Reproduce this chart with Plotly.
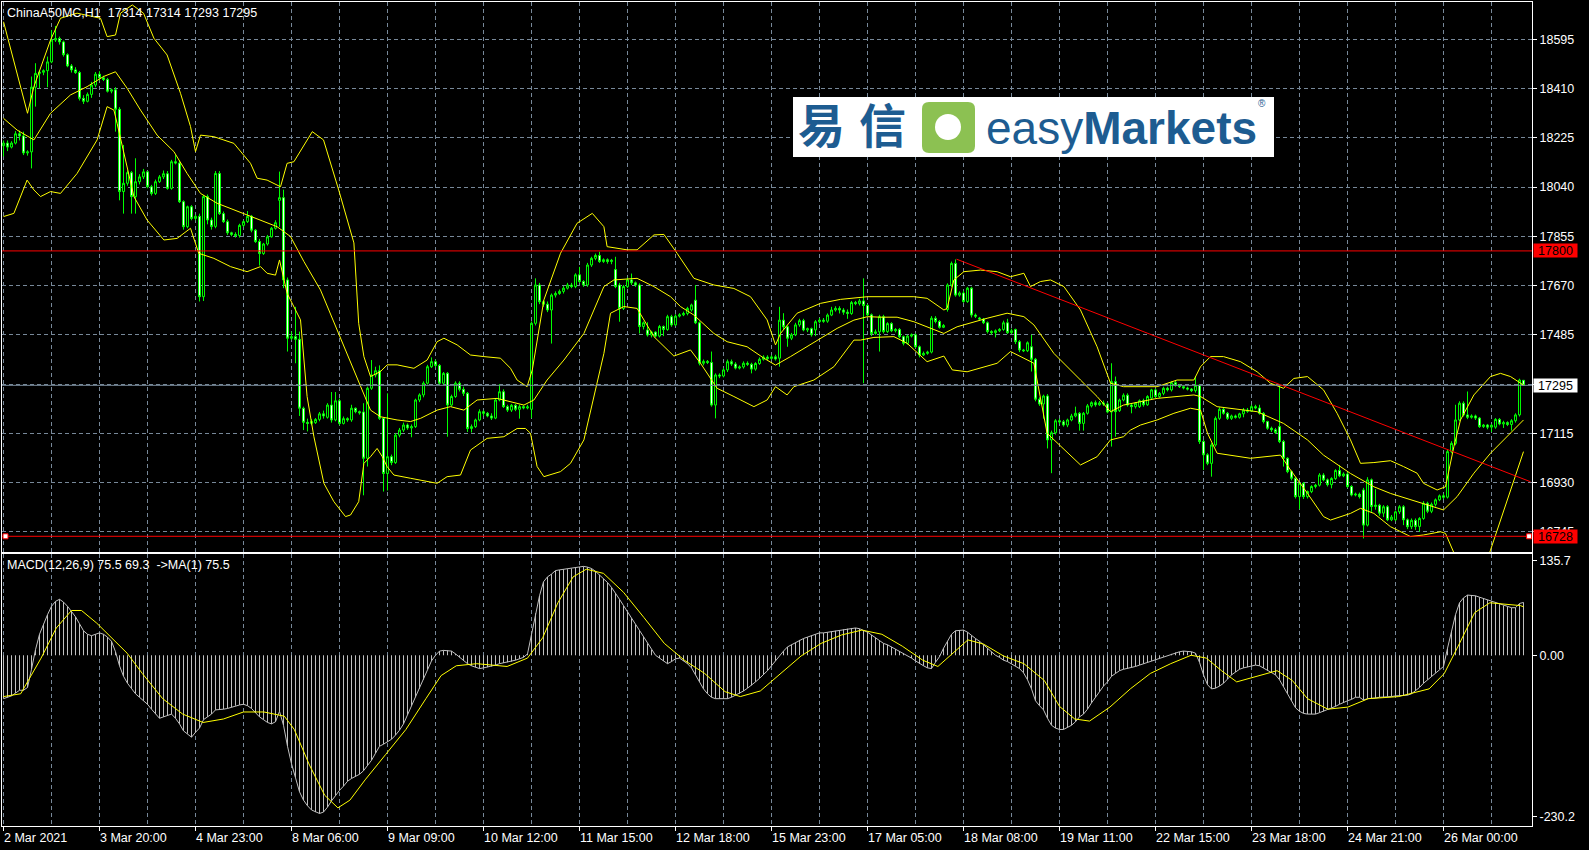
import plotly.graph_objects as go

# ---------------- data ----------------
bars = list(range(381))

opens = [
    18195,18205,18190,18205,18240,18232,18168,18172,18415,18467,
    18471,18477,18510,18592,18598,18585,18537,18495,18480,18470,
    18373,18362,18388,18423,18464,18450,18444,18400,18405,18332,
    18023,18054,18094,18004,18060,18078,18097,18041,18016,18060,
    18078,18090,18035,18135,18130,17985,17891,17966,17922,17930,
    17628,18004,17916,17892,18091,17940,17910,17868,17862,17858,
    17896,17910,17930,17878,17835,17790,17826,17853,17885,17990,
    18000,17691,17472,17478,17468,17209,17156,17152,17155,17167,
    17188,17175,17221,17165,17237,17152,17170,17165,17209,17196,
    17195,17021,17284,17334,17350,17171,16964,17027,17005,17108,
    17127,17146,17135,17140,17240,17259,17303,17365,17384,17370,
    17303,17340,17221,17253,17303,17280,17265,17133,17140,17165,
    17196,17190,17180,17172,17240,17271,17215,17202,17220,17205,
    17215,17210,17205,17528,17672,17609,17600,17578,17634,17640,
    17648,17660,17672,17666,17710,17685,17672,17747,17772,17783,
    17760,17767,17760,17730,17672,17584,17666,17691,17680,17672,
    17516,17503,17484,17495,17480,17516,17505,17553,17522,17555,
    17560,17565,17578,17615,17530,17378,17385,17381,17221,17334,
    17330,17353,17384,17375,17360,17364,17378,17374,17356,17377,
    17393,17401,17396,17402,17397,17540,17515,17472,17485,17522,
    17538,17503,17508,17503,17534,17540,17536,17559,17578,17584,
    17578,17570,17565,17606,17602,17612,17595,17560,17490,17496,
    17553,17497,17527,17500,17505,17478,17453,17480,17485,17440,
    17409,17415,17420,17547,17535,17513,17580,17672,17753,17634,
    17642,17610,17660,17559,17548,17544,17530,17497,17493,17500,
    17505,17530,17493,17505,17459,17428,17425,17440,17393,17243,
    17225,17255,17090,17117,17162,17158,17146,17165,17180,17190,
    17152,17190,17218,17230,17222,17229,17225,17195,17309,17200,
    17240,17258,17221,17215,17215,17237,17222,17247,17278,17253,
    17265,17284,17278,17305,17295,17290,17285,17281,17275,17295,
    17084,17034,17002,17071,17171,17205,17190,17171,17180,17175,
    17188,17202,17198,17215,17210,17190,17159,17134,17128,17140,
    17084,17021,16971,16946,16877,16927,16877,16896,16915,16920,
    16958,16940,16922,16945,16975,16955,16962,16915,16883,16886,
    16902,16770,16940,16840,16845,16815,16839,16790,16790,16820,
    16839,16790,16764,16788,16765,16795,16852,16822,16848,16865,
    16880,16875,17046,17077,17165,17228,17184,17175,17180,17172,
    17140,17146,17138,17138,17167,17150,17155,17148,17162,17184,17314,
]
highs = [
    18215,18215,18212,18250,18252,18248,18178,18455,18505,18476,
    18482,18530,18630,18645,18605,18590,18542,18502,18490,18476,
    18385,18395,18435,18472,18475,18458,18450,18410,18415,18340,
    18198,18102,18100,18148,18088,18108,18100,18048,18068,18085,
    18102,18100,18142,18160,18140,17990,17970,17972,17936,17940,
    18010,18012,17925,18100,18100,17948,17918,17872,17870,17902,
    17915,17950,17935,17882,17845,17830,17860,17890,17915,18098,
    18030,17700,17497,17590,17497,17215,17170,17168,17172,17195,
    17200,17228,17270,17270,17245,17178,17175,17222,17212,17200,
    17228,17290,17390,17365,17370,17175,17265,17035,17115,17135,
    17155,17152,17148,17245,17265,17310,17372,17400,17392,17375,
    17345,17345,17260,17310,17310,17290,17270,17148,17170,17205,
    17202,17195,17190,17245,17300,17280,17222,17225,17225,17222,
    17220,17222,17535,17697,17680,17615,17610,17640,17648,17655,
    17668,17680,17680,17716,17740,17690,17755,17778,17790,17797,
    17772,17772,17770,17778,17680,17672,17700,17715,17685,17678,
    17535,17532,17500,17498,17522,17520,17560,17560,17562,17566,
    17572,17590,17602,17672,17535,17392,17390,17422,17340,17340,
    17360,17392,17392,17382,17370,17385,17385,17380,17382,17400,
    17408,17408,17408,17410,17590,17566,17520,17492,17530,17545,
    17545,17512,17512,17540,17548,17548,17565,17590,17592,17592,
    17585,17580,17612,17612,17620,17697,17600,17565,17505,17560,
    17560,17532,17532,17510,17510,17482,17485,17490,17490,17445,
    17422,17425,17555,17555,17540,17525,17678,17760,17768,17648,
    17650,17665,17665,17565,17552,17548,17535,17502,17505,17510,
    17538,17545,17508,17508,17465,17432,17460,17485,17398,17250,
    17260,17262,17125,17168,17170,17165,17170,17188,17215,17195,
    17195,17225,17235,17238,17236,17238,17230,17378,17328,17245,
    17265,17265,17228,17232,17242,17245,17258,17282,17283,17270,
    17290,17290,17310,17312,17300,17293,17290,17285,17330,17300,
    17090,17040,17078,17178,17212,17212,17195,17185,17185,17192,
    17210,17210,17222,17222,17222,17195,17162,17140,17135,17293,
    17090,17025,16975,16950,16932,16932,16900,16920,16925,16965,
    16965,16945,16950,16980,16995,16968,16968,16920,16892,16892,
    16910,16950,16945,16905,16850,16845,16845,16808,16825,16845,
    16845,16795,16795,16795,16800,16860,16858,16855,16870,16885,
    16888,17055,17085,17222,17235,17235,17272,17186,17185,17176,
    17150,17150,17150,17172,17172,17162,17160,17168,17190,17320,17314,
]
lows = [
    18155,18175,18185,18200,18215,18160,18158,18110,18342,18410,
    18460,18415,18505,18585,18575,18530,18490,18470,18465,18365,
    18352,18358,18375,18415,18440,18438,18395,18392,18248,17990,
    17940,18045,17940,17940,18050,18070,18035,18008,18010,18055,
    18070,18030,18030,18125,17980,17880,17885,17915,17915,17610,
    17612,17900,17880,17885,17935,17905,17860,17855,17850,17850,
    17890,17905,17870,17830,17745,17785,17820,17850,17880,17890,
    17660,17422,17465,17378,17180,17127,17122,17145,17150,17160,
    17170,17170,17155,17160,17145,17148,17158,17158,17190,17185,
    16882,16990,17278,17325,17165,16896,16900,16995,17000,17100,
    17120,17128,17100,17135,17232,17250,17298,17360,17362,17298,
    17298,17102,17215,17248,17272,17255,17120,17118,17135,17160,
    17180,17175,17165,17168,17235,17210,17195,17195,17198,17170,
    17205,17205,17172,17520,17600,17590,17570,17452,17625,17635,
    17640,17655,17660,17660,17680,17665,17665,17740,17765,17755,
    17755,17752,17750,17660,17534,17578,17660,17672,17665,17490,
    17505,17478,17475,17475,17475,17480,17500,17515,17518,17550,
    17555,17558,17572,17525,17370,17370,17375,17215,17171,17322,
    17325,17345,17368,17355,17355,17358,17368,17340,17350,17372,
    17388,17390,17392,17388,17365,17505,17440,17465,17480,17515,
    17498,17495,17478,17480,17528,17530,17530,17555,17572,17565,
    17560,17545,17560,17596,17595,17303,17555,17480,17485,17422,
    17490,17492,17495,17494,17472,17445,17448,17475,17435,17400,
    17405,17410,17415,17528,17508,17510,17572,17665,17628,17628,
    17605,17605,17550,17548,17538,17525,17490,17485,17475,17495,
    17500,17488,17488,17450,17420,17420,17420,17347,17235,17218,
    17170,17058,16965,17110,17150,17140,17138,17160,17175,17125,
    17125,17185,17212,17215,17218,17218,17190,17065,17102,17195,
    17235,17215,17190,17208,17210,17215,17218,17243,17248,17248,
    17258,17272,17272,17290,17285,17280,17276,17270,17268,17075,
    16977,16995,16952,17065,17165,17185,17165,17165,17170,17170,
    17175,17192,17195,17205,17185,17152,17128,17120,17112,17078,
    16990,16965,16938,16870,16830,16868,16870,16890,16908,16915,
    16935,16915,16908,16940,16950,16950,16910,16878,16878,16870,
    16720,16765,16820,16828,16805,16800,16785,16785,16785,16812,
    16770,16755,16755,16752,16745,16790,16815,16815,16840,16860,
    16868,16870,17040,17070,17160,17178,17168,17170,17165,17135,
    17135,17130,17120,17132,17145,17135,17142,17125,17155,17178,17293,
]
closes = [
    18205,18190,18205,18240,18232,18168,18172,18415,18467,18471,
    18477,18510,18592,18598,18585,18537,18495,18480,18470,18373,
    18362,18388,18423,18464,18450,18444,18400,18405,18332,18023,
    18054,18094,18004,18060,18078,18097,18041,18016,18060,18078,
    18090,18035,18135,18130,17985,17891,17966,17922,17930,17628,
    18004,17916,17892,18091,17940,17910,17868,17862,17858,17896,
    17910,17930,17878,17835,17790,17826,17853,17885,17906,18000,
    17691,17472,17478,17468,17209,17156,17152,17160,17167,17188,
    17180,17221,17165,17237,17152,17170,17165,17209,17196,17192,
    17021,17284,17334,17350,17171,16964,17027,17005,17108,17127,
    17146,17135,17140,17240,17259,17303,17365,17384,17370,17303,
    17340,17221,17253,17303,17280,17265,17133,17140,17165,17196,
    17190,17180,17172,17240,17271,17215,17202,17220,17205,17215,
    17210,17214,17528,17672,17609,17600,17578,17634,17640,17648,
    17660,17672,17666,17710,17685,17672,17747,17772,17783,17760,
    17767,17760,17765,17666,17584,17666,17691,17680,17672,17516,
    17530,17484,17495,17480,17516,17505,17553,17522,17555,17560,
    17565,17584,17597,17530,17378,17385,17381,17221,17334,17330,
    17353,17384,17375,17360,17364,17378,17374,17356,17377,17393,
    17401,17396,17402,17394,17540,17515,17472,17485,17522,17538,
    17503,17508,17485,17534,17540,17536,17559,17578,17584,17578,
    17570,17565,17606,17602,17612,17595,17560,17490,17496,17553,
    17497,17527,17500,17505,17478,17453,17480,17485,17440,17409,
    17415,17420,17547,17535,17513,17520,17672,17753,17634,17642,
    17610,17660,17559,17555,17544,17530,17497,17493,17500,17505,
    17530,17493,17500,17459,17428,17425,17455,17393,17243,17225,
    17255,17090,17117,17162,17158,17146,17165,17180,17190,17152,
    17190,17218,17230,17222,17229,17225,17195,17309,17196,17240,
    17258,17221,17215,17228,17237,17222,17253,17278,17253,17265,
    17284,17278,17305,17295,17290,17285,17281,17275,17295,17084,
    17034,17002,17071,17171,17205,17190,17171,17180,17175,17188,
    17202,17198,17215,17210,17190,17159,17134,17128,17118,17084,
    17021,16971,16946,16877,16927,16877,16896,16915,16920,16958,
    16940,16922,16945,16975,16955,16962,16915,16883,16886,16877,
    16770,16940,16840,16845,16815,16839,16790,16800,16820,16839,
    16790,16764,16788,16765,16795,16852,16822,16848,16865,16880,
    16875,17046,17077,17165,17228,17184,17175,17180,17172,17140,
    17146,17138,17145,17167,17150,17155,17148,17162,17184,17315,17295,
]

bb_upper_x = [0,3,6,7.6,11.75,14.25,18.4,24.25,25.9,28,29.25,32.2,35,37.6,40.9,44.25,46.75,48,49.25,52.6,
              57.6,61.75,63.4,65.9,69.25,70.9,72.6,77.2,80,83.8,87.6,88.8,90.1,91.75,94.25,95.9,98.4,102.6,105.9,
              108.4,110.1,113.4,116.75,120.1,124.25,126.75,128.4,130.9,132.2,135.1,139.25,143.4,147.2,150.1,150.9,
              155.9,158.4,162.6,165.1,168.4,171.75,172.6,177.6,182.6,186.75,190.9,193,194.25,198.4,204.25,209.25,
              216,227.6,230.9,235.1,235.9,237.6,240.1,244.25,248.4,251.75,255.1,256.75,259.25,261.75,265.1,269.25,
              273.4,276.75,280,288.4,293.4,297.6,299.25,301.75,305,309.25,313.4,316.75,320,322.6,326,330,333.4,
              336.75,339.25,342.6,346.75,350,353.4,355,358.4,360.5,362.6,364.25,367.6,371.75,374.25,376.75,380]
bb_upper = [18661,18492,18317,18417,18592,18674,18693,18674,18605,18611,18693,18724,18693,18599,18536,18392,18267,18173,18235,18229,
            18204,18129,18073,18066,18041,18129,18135,18248,18217,18029,17830,17528,17403,17328,17347,17372,17372,17359,17390,
            17459,17472,17447,17409,17403,17397,17359,17315,17290,17353,17616,17791,17904,17941,17891,17816,
            17804,17804,17860,17862,17791,17716,17697,17672,17659,17628,17541,17447,17490,17566,17603,17618,
            17628,17628,17622,17578,17584,17691,17722,17728,17722,17703,17716,17666,17685,17691,17666,17578,
            17440,17303,17290,17290,17315,17315,17365,17403,17403,17384,17346,17303,17284,17321,17328,17278,17190,
            17090,17002,17005,17012,16990,16965,16927,16902,16914,17065,17165,17259,17328,17340,17328,17296]

bb_mid_x = [0,3.4,7.6,11.75,16.75,20.9,25,28,30.9,34.25,38.4,42.6,45.9,49.25,53.4,57.6,61.75,65.9,68.4,71.75,
            75.1,79.25,83.4,87.6,90.1,91.75,94.25,98.4,101.75,104.25,108.4,111.75,115.1,118.4,123.4,126.75,130.1,132.6,135.9,140.1,
            145.1,150.1,152.6,158.4,162.6,166.75,169.25,172.6,177.6,180.9,185.9,190.1,193,196.75,200.9,205.1,208.4,212.6,216,219.25,
            223.4,227.6,231.75,235.1,238.4,242.6,245.9,250.9,255.1,257.6,262.6,269.25,273.4,276.75,280,288.4,292.6,297.6,299.25,303.4,
            313.4,320,326,330,336.75,342.6,346.75,355,360,363.4,367.6,371.75,376.75,380]
bb_mid = [18298,18254,18217,18317,18386,18417,18455,18473,18411,18329,18235,18173,18091,18016,17979,17954,17929,17906,17891,17854,
          17760,17653,17503,17353,17265,17202,17177,17165,17159,17171,17202,17215,17202,17240,17246,17234,17221,17240,17315,17390,
          17490,17666,17691,17697,17666,17628,17591,17559,17490,17459,17440,17397,17371,17403,17440,17478,17509,17540,17553,17551,
          17551,17534,17509,17490,17515,17534,17547,17566,17553,17522,17415,17315,17253,17196,17221,17246,17253,17259,17253,17215,
          17196,17152,17090,17033,16964,16914,16889,16852,16827,16877,16965,17040,17115,17165]

bb_lower_x = [0,2.6,5.9,7.6,9.25,11.75,14.25,18.4,23.4,25.9,27.6,28.4,32.6,35.9,40.1,43.4,46.75,48.8,52.6,56.75,
              60.9,64.25,65.9,68,69,70.9,74.25,75.9,77.6,80.1,82.6,85.5,86.75,88.8,90.1,91.75,93.4,94.7,95.9,97.6,
              101.75,105.9,108.4,110.9,114.25,116.75,120.9,125.1,128.4,130.5,131.75,133.4,135.1,139.25,141.75,145.1,150.1,151.75,155.1,158.4,
              162.6,167.6,171.75,174.25,178.4,182.6,187.6,190.9,193,195.9,197.6,202.6,207.6,212.6,214.25,217.6,222.6,225.9,230.9,235.1,
              237.2,240.9,244.25,248.4,251.75,255.1,257.6,260.9,269.25,273.4,276.75,280,281.75,284.25,288.4,292.6,296.75,299.25,301,303.4,
              311.75,319.25,321.75,326,330,331.75,336.75,339.25,342.6,346.75,351.75,355,359.25,360.5,362.6,364.5,367,369.5,371.75,376,380]
bb_lower = [17929,17941,18066,18029,18004,18023,18016,18091,18217,18342,18329,18279,18004,17916,17841,17847,17885,17791,17772,17741,
            17722,17741,17716,17709,17766,17641,17541,17253,17102,16927,16858,16802,16808,16858,17002,17027,17058,17027,16990,16958,
            16946,16933,16927,16952,16958,17052,17096,17102,17133,17133,17115,16990,16952,16971,17002,17090,17415,17566,17591,17584,
            17478,17405,17428,17378,17284,17253,17215,17240,17290,17259,17290,17315,17365,17465,17465,17475,17478,17453,17384,17405,
            17353,17346,17359,17378,17422,17397,17378,17115,16996,17027,17090,17102,17127,17146,17165,17190,17209,17202,17115,17040,
            17021,17033,16977,16889,16802,16789,16814,16833,16814,16764,16727,16733,16745,16739,16664,16600,16560,16580,16676,16864,17046]

macd = [
    -62,-60,-58,-54,-50,-50,-46,-20,8,30,
    45,58,70,77,80,76,70,63,55,45,
    35,30,28,30,32,30,26,20,5,-15,
    -30,-40,-48,-55,-60,-65,-70,-77,-84,-90,
    -88,-86,-84,-90,-98,-108,-112,-117,-110,-104,
    -92,-88,-84,-78,-78,-77,-76,-74,-72,-71,
    -70,-72,-76,-82,-88,-92,-96,-98,-95,-80,
    -100,-130,-155,-175,-195,-207,-215,-221,-224,-226,
    -224,-217,-208,-200,-193,-187,-180,-176,-173,-170,
    -165,-158,-150,-140,-130,-127,-124,-120,-114,-107,
    -98,-85,-72,-60,-48,-35,-20,-8,0,6,
    7,7,6,2,-3,-8,-12,-15,-17,-19,
    -18,-17,-16,-14,-12,-11,-10,-9,-7,-5,
    -3,2,30,60,85,105,112,116,121,122,
    123,123,124,125,126,127,126,124,120,115,
    109,104,97,89,80,71,62,53,44,35,
    26,17,8,0,-4,-8,-12,-9,-5,-4,
    -8,-12,-18,-28,-38,-48,-55,-60,-62,-62,
    -62,-62,-60,-57,-55,-51,-47,-43,-38,-33,
    -28,-22,-15,-8,0,6,12,15,18,22,
    24,26,28,30,32,32,33,34,35,36,
    37,38,39,39,38,36,33,29,25,21,
    17,15,12,9,6,3,0,-4,-8,-12,
    -15,-18,-19,-10,-2,10,20,30,35,36,
    36,33,28,24,20,15,10,5,0,-3,
    -7,-9,-12,-15,-19,-25,-35,-48,-65,-72,
    -78,-90,-100,-104,-106,-106,-103,-100,-95,-88,
    -84,-77,-68,-60,-52,-44,-38,-30,-26,-22,
    -20,-19,-17,-16,-14,-12,-10,-8,-6,-4,
    -2,0,2,4,5,6,6,5,3,-10,
    -28,-42,-48,-47,-44,-40,-34,-28,-24,-20,
    -18,-17,-15,-14,-15,-18,-22,-25,-28,-35,
    -45,-55,-65,-75,-80,-83,-84,-84,-84,-82,
    -80,-77,-75,-73,-70,-67,-65,-63,-60,-60,
    -64,-62,-62,-61,-60,-60,-59,-59,-58,-58,
    -57,-57,-55,-51,-46,-40,-35,-30,-25,-20,
    -16,10,35,58,75,82,86,86,85,83,
    81,79,77,75,73,71,69,68,68,74,75.5,
]
signal_x = [0,4.3,9.4,13.2,17,19.5,23.3,27.1,30.9,34.7,39.8,44.8,49.9,55,60,65.1,70.2,72.7,76.5,80.3,83.6,86.6,90.4,95.5,
            100.6,105.6,109.4,113.2,118.3,125.9,131,134.8,138.6,142.4,145.7,150,155,160.1,165.2,170.2,175.3,180.4,184.2,189.2,
            194.3,199.4,204.4,209.5,214.6,219.6,224.7,229.8,233.6,237.4,241.1,245,250,255.1,260.2,264,267.8,271.5,276.6,281.7,
            286.7,291.8,296.9,300.7,304.5,308.3,313.3,318.4,322.2,326,331.1,336.1,341.2,348.8,356.4,360.2,364,367.8,371.6,376.7,379.2,380]
signal = [-59,-55,-4,39,64,64,46,25,3,-26,-62,-84,-96,-91,-81,-81,-87,-106,-157,-200,-218,-207,-178,-142,
          -106,-62,-29,-15,-12,-16,-4,25,75,112,123,117,90,54,17,-7,-26,-52,-59,-51,
          -26,-1,17,29,36,30,13,-7,-16,3,22,16,-1,-12,-36,-73,-91,-94,-74,-48,
          -26,-12,0,-4,-22,-38,-30,-22,-36,-62,-77,-74,-62,-59,-48,-26,17,61,75,73,71,69.3]

price_ticks = [18595, 18410, 18225, 18040, 17855, 17670, 17485, 17300, 17115, 16930, 16745]
macd_ticks = [135.7, 0.0, -230.2]
macd_tick_text = ["135.7", "0.00", "-230.2"]
time_label_bars = [0, 24, 48, 72, 96, 120, 144, 168, 192, 216, 240, 264, 288, 312, 336, 360]
time_labels = ["2 Mar 2021", "3 Mar 20:00", "4 Mar 23:00", "8 Mar 06:00", "9 Mar 09:00", "10 Mar 12:00",
               "11 Mar 15:00", "12 Mar 18:00", "15 Mar 23:00", "17 Mar 05:00", "18 Mar 08:00", "19 Mar 11:00",
               "22 Mar 15:00", "23 Mar 18:00", "24 Mar 21:00", "26 Mar 00:00"]
resistance = 17800
support = 16728
bid = 17295
trend_x = [238.25, 381.75]
trend_y = [17769, 16933]

assert len(opens) == len(highs) == len(lows) == len(closes) == len(macd) == len(bars)
assert len(bb_upper_x) == len(bb_upper) and len(bb_mid_x) == len(bb_mid) and len(bb_lower_x) == len(bb_lower)
assert len(signal_x) == len(signal)

# ---------------- styling ----------------
FONT = "Liberation Sans, Arial, sans-serif"
GRID = "#778899"
LIME = "#00ff00"
YEL = "#ffff00"
XR = [-0.375, 382.125]
W, H = 1589, 850
ML, MR, MT, MB = 2, 57, 2, 24
PW, PH = W - ML - MR, H - MT - MB


def px_x(px):
    return (px - ML) / PW


def px_y(py):
    return (H - MB - py) / PH


fig = go.Figure()

fig.add_trace(go.Candlestick(
    x=bars, open=opens, high=highs, low=lows, close=closes,
    increasing=dict(line=dict(color=LIME, width=1), fillcolor="black"),
    decreasing=dict(line=dict(color=LIME, width=1), fillcolor="white"),
    whiskerwidth=0, xaxis="x", yaxis="y", hoverinfo="skip"))

for xs, ys in [(bb_upper_x, bb_upper), (bb_mid_x, bb_mid), (bb_lower_x, bb_lower)]:
    fig.add_trace(go.Scatter(x=xs, y=ys, mode="lines", line=dict(color=YEL, width=1),
                             xaxis="x", yaxis="y", hoverinfo="skip"))

# horizontal levels
fig.add_trace(go.Scatter(x=XR, y=[bid, bid], mode="lines", line=dict(color=GRID, width=1),
                         xaxis="x", yaxis="y", hoverinfo="skip"))
for lv in (resistance, support):
    fig.add_trace(go.Scatter(x=XR, y=[lv, lv], mode="lines", line=dict(color="#ff0000", width=1),
                             xaxis="x", yaxis="y", hoverinfo="skip"))
fig.add_trace(go.Scatter(x=trend_x, y=trend_y, mode="lines", line=dict(color="#ff0000", width=1),
                         xaxis="x", yaxis="y", hoverinfo="skip"))
fig.add_trace(go.Scatter(x=[0.5, 381.4], y=[support, support], mode="markers",
                         marker=dict(symbol="square", size=5, color="white", line=dict(color="#ff0000", width=1)),
                         xaxis="x", yaxis="y", hoverinfo="skip", cliponaxis=False))

# MACD histogram (1px silver lines) + MA(1) line + signal
hx, hy = [], []
for i, v in zip(bars, macd):
    hx += [i, i, None]
    hy += [0, v, None]
fig.add_trace(go.Scatter(x=hx, y=hy, mode="lines", line=dict(color="#c0c0c0", width=1),
                         xaxis="x2", yaxis="y2", hoverinfo="skip"))
fig.add_trace(go.Scatter(x=bars, y=macd, mode="lines", line=dict(color="#c0c0c0", width=1),
                         xaxis="x2", yaxis="y2", hoverinfo="skip"))
fig.add_trace(go.Scatter(x=signal_x, y=signal, mode="lines", line=dict(color=YEL, width=1),
                         xaxis="x2", yaxis="y2", hoverinfo="skip"))

minor_vals = list(range(0, 384, 12))
grid_common = dict(showgrid=True, gridcolor=GRID, griddash="4px,3px", gridwidth=1)
axis_line = dict(showline=True, mirror=True, linecolor="white", linewidth=1, zeroline=False)

fig.update_layout(
    width=W, height=H,
    margin=dict(l=ML, r=MR, t=MT, b=MB, pad=0, autoexpand=False),
    paper_bgcolor="black", plot_bgcolor="black",
    showlegend=False, hovermode=False,
    font=dict(family=FONT, size=12.5, color="white"),
    xaxis=dict(domain=[0, 1], anchor="y", range=XR, showticklabels=False, ticks="",
               tickmode="array", tickvals=time_label_bars,
               minor=dict(tickmode="array", tickvals=minor_vals, ticks="", **grid_common),
               rangeslider=dict(visible=False), **grid_common, **axis_line),
    xaxis2=dict(domain=[0, 1], anchor="y2", range=XR, matches="x", showticklabels=False,
                ticks="outside", ticklen=4, tickcolor="white",
                tickmode="array", tickvals=time_label_bars,
                minor=dict(tickmode="array", tickvals=minor_vals, ticks="", **grid_common),
                **grid_common, **axis_line),
    yaxis=dict(domain=[px_y(552), 1], anchor="x", range=[16669, 18735], side="right",
               tickmode="array", tickvals=price_ticks, ticktext=[str(p) for p in price_ticks],
               ticks="outside", ticklen=4, tickcolor="white", automargin=False,
               tickfont=dict(family=FONT, size=12.5, color="white"), **grid_common, **axis_line),
    yaxis2=dict(domain=[0, px_y(554)], anchor="x2", range=[-243.9, 144.7], side="right",
                tickmode="array", tickvals=macd_ticks, ticktext=macd_tick_text, automargin=False,
                ticks="outside", ticklen=4, tickcolor="white", showgrid=False,
                tickfont=dict(family=FONT, size=12.5, color="white"), **axis_line),
)

ann = []
for b, t in zip(time_label_bars, time_labels):
    ann.append(dict(x=b, xref="x2", y=px_y(838), yref="paper", text=t, showarrow=False,
                    xanchor="left", yanchor="middle", xshift=-2,
                    font=dict(family=FONT, size=12.5, color="white")))
ann.append(dict(x=0, xref="paper", y=px_y(13), yref="paper",
                text="ChinaA50MC,H1 \u00a017314 17314 17293 17295", showarrow=False,
                xanchor="left", yanchor="middle", xshift=3,
                font=dict(family=FONT, size=12.5, color="white")))
ann.append(dict(x=0, xref="paper", y=px_y(565), yref="paper",
                text="MACD(12,26,9) 75.5 69.3 \u00a0->MA(1) 75.5", showarrow=False,
                xanchor="left", yanchor="middle", xshift=3,
                font=dict(family=FONT, size=12.5, color="white")))
for lv, bg in [(resistance, "#ff0000"), (bid, "#ffffff"), (support, "#ff0000")]:
    ann.append(dict(x=1, xref="paper", y=lv, yref="y", text=str(lv), showarrow=False,
                    xanchor="left", yanchor="middle", xshift=1, bgcolor=bg,
                    width=43, height=13, borderpad=0, align="center",
                    font=dict(family=FONT, size=12.5, color="black")))

# easyMarkets logo
BLUE = "#1d5c91"
ann.append(dict(x=px_x(821), xref="paper", y=px_y(123), yref="paper", text="<b>易</b>", showarrow=False,
                xanchor="center", yanchor="middle",
                font=dict(family="Noto Sans CJK SC", size=47, color=BLUE)))
ann.append(dict(x=px_x(883), xref="paper", y=px_y(123), yref="paper", text="<b>信</b>", showarrow=False,
                xanchor="center", yanchor="middle",
                font=dict(family="Noto Sans CJK SC", size=47, color=BLUE)))
ann.append(dict(x=px_x(984), xref="paper", y=px_y(128), yref="paper", text="easy<b>Markets</b>", showarrow=False,
                xanchor="left", yanchor="middle",
                font=dict(family="Liberation Sans, Arial, sans-serif", size=46, color=BLUE)))
ann.append(dict(x=px_x(1262), xref="paper", y=px_y(104), yref="paper", text="®", showarrow=False,
                xanchor="center", yanchor="middle",
                font=dict(family="Liberation Sans, Arial, sans-serif", size=10, color=BLUE)))
fig.update_layout(annotations=ann)

# logo background, green rounded square, white dot
x0, x1, y0, y1 = px_x(922), px_x(975), px_y(153), px_y(102)
rx, ry = 7 / PW, 7 / PH
path = (f"M {x0+rx},{y0} L {x1-rx},{y0} Q {x1},{y0} {x1},{y0+ry} L {x1},{y1-ry} Q {x1},{y1} {x1-rx},{y1} "
        f"L {x0+rx},{y1} Q {x0},{y1} {x0},{y1-ry} L {x0},{y0+ry} Q {x0},{y0} {x0+rx},{y0} Z")
fig.update_layout(shapes=[
    dict(type="rect", xref="paper", yref="paper", x0=px_x(793), x1=px_x(1274), y0=px_y(157), y1=px_y(97),
         fillcolor="white", line=dict(width=0), layer="above"),
    dict(type="path", xref="paper", yref="paper", path=path, fillcolor="#8cc152", line=dict(width=0), layer="above"),
    dict(type="circle", xref="paper", yref="paper", x0=px_x(935), x1=px_x(961), y0=px_y(140), y1=px_y(114),
         fillcolor="white", line=dict(width=0), layer="above"),
])

fig.write_html("out.html",
               config={"displayModeBar": False, "staticPlot": True},
               post_script="document.body.style.margin='0';document.body.style.padding='0';"
                           "document.body.style.background='black';document.body.style.overflow='hidden';")
